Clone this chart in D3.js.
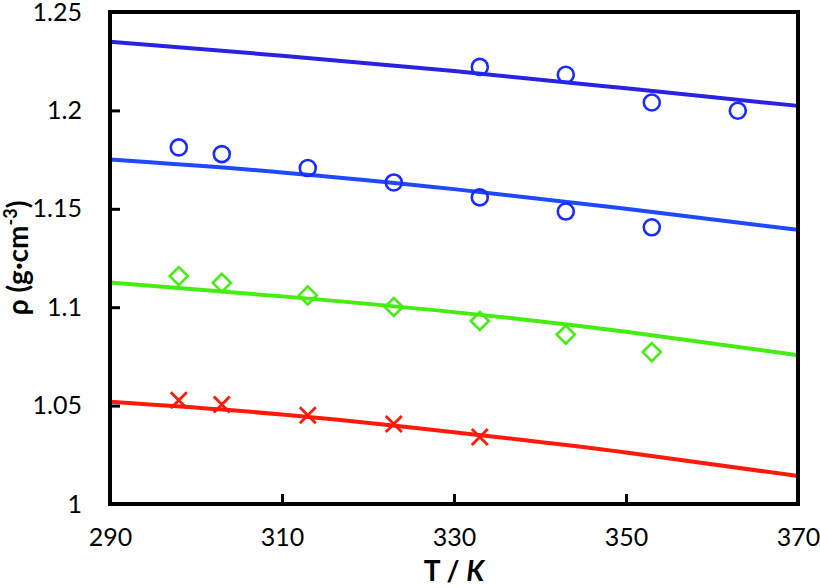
<!DOCTYPE html>
<html>
<head>
<meta charset="utf-8">
<script src="https://cdn.jsdelivr.net/npm/d3@7"></script>
<style>
body { margin: 0; background: #fff; }
text { font-family: Lato, "Open Sans", sans-serif; }
</style>
</head>
<body>
<div id="chart"></div>
<script>
// temperatures, K
var xTicks = [290, 310, 330, 350, 370];
var yTicks = [1.0, 1.05, 1.1, 1.15, 1.2, 1.25];
var yTickLabels = ["1", "1.05", "1.1", "1.15", "1.2", "1.25"];

// fitted curves
var lineT = [290, 310, 330, 350, 370];
var line1 = [1.2349, 1.2278, 1.2200, 1.2112, 1.2023];
var line2 = [1.1750, 1.1685, 1.1600, 1.1500, 1.1393];
var line3 = [1.1125, 1.1055, 1.0975, 1.0875, 1.0756];
var line4 = [1.0519, 1.0455, 1.0365, 1.0262, 1.0142];

// measured points
var pts1T = [333, 343, 353, 363];
var pts1 = [1.2221, 1.2181, 1.2040, 1.1998];
var pts2T = [298, 303, 313, 323, 333, 343, 353];
var pts2 = [1.1812, 1.1778, 1.1707, 1.1634, 1.1558, 1.1486, 1.1406];
var pts3T = [298, 303, 313, 323, 333, 343, 353];
var pts3 = [1.1158, 1.1124, 1.1060, 1.1001, 1.0930, 1.0861, 1.0772];
var pts4T = [298, 303, 313, 323, 333];
var pts4 = [1.0527, 1.0506, 1.0451, 1.0406, 1.0341];

var width = 820, height = 588;
var margin = {left: 110, right: 22, top: 12, bottom: 84};

var svg = d3.select("#chart").append("svg")
    .attr("width", width)
    .attr("height", height);

var x = d3.scaleLinear().domain([290, 370]).range([margin.left, width - margin.right]);
var y = d3.scaleLinear().domain([1.0, 1.25]).range([height - margin.bottom, margin.top]);

var zip = function(ts, vs) { return ts.map(function(t, i) { return [t, vs[i]]; }); };

var line = d3.line()
    .x(function(d) { return x(d[0]); })
    .y(function(d) { return y(d[1]); })
    .curve(d3.curveNatural);

// curves
var curves = [
    {data: line1, color: "#2a22e0"},
    {data: line2, color: "#1f48ff"},
    {data: line3, color: "#44ee11"},
    {data: line4, color: "#ff1a0a"}];

svg.selectAll("path.fit")
    .data(curves)
    .enter()
    .append("path")
    .attr("class", "fit")
    .attr("d", function(d) { return line(zip(lineT, d.data)); })
    .attr("fill", "none")
    .attr("stroke", function(d) { return d.color; })
    .attr("stroke-width", 4);

// circles
svg.selectAll("circle.p")
    .data(zip(pts1T, pts1).concat(zip(pts2T, pts2)))
    .enter()
    .append("circle")
    .attr("class", "p")
    .attr("cx", function(d) { return x(d[0]); })
    .attr("cy", function(d) { return y(d[1]); })
    .attr("r", 8)
    .attr("fill", "none")
    .attr("stroke", "#1a2bff")
    .attr("stroke-width", 2.6);

// diamonds
var diamond = "M0,-9L9,0L0,9L-9,0Z";
svg.selectAll("path.dia")
    .data(zip(pts3T, pts3))
    .enter()
    .append("path")
    .attr("class", "dia")
    .attr("transform", function(d) { return "translate(" + x(d[0]) + "," + y(d[1]) + ")"; })
    .attr("d", diamond)
    .attr("fill", "none")
    .attr("stroke", "#44ee11")
    .attr("stroke-width", 2.6);

// crosses
var cross = "M-8,-8L8,8M-8,8L8,-8";
svg.selectAll("path.crs")
    .data(zip(pts4T, pts4))
    .enter()
    .append("path")
    .attr("class", "crs")
    .attr("transform", function(d) { return "translate(" + x(d[0]) + "," + y(d[1]) + ")"; })
    .attr("d", cross)
    .attr("fill", "none")
    .attr("stroke", "#ff1a0a")
    .attr("stroke-width", 2.8);

// frame
svg.append("rect")
    .attr("x", x(290))
    .attr("y", y(1.25))
    .attr("width", x(370) - x(290))
    .attr("height", y(1.0) - y(1.25))
    .attr("fill", "none")
    .attr("stroke", "#000")
    .attr("stroke-width", 4);

// axes, ticks pointing inward
var xAxis = svg.append("g")
    .attr("transform", "translate(0," + y(1.0) + ")")
    .call(d3.axisBottom(x).tickValues(xTicks).tickSizeInner(-10).tickSizeOuter(0).tickPadding(24));
var yAxis = svg.append("g")
    .attr("transform", "translate(" + x(290) + ",0)")
    .call(d3.axisLeft(y).tickValues(yTicks).tickSizeInner(-10).tickSizeOuter(0).tickPadding(28)
        .tickFormat(function(d, i) { return yTickLabels[i]; }));

[xAxis, yAxis].forEach(function(g) {
    g.select(".domain").remove();
    g.selectAll(".tick line").attr("stroke", "#000").attr("stroke-width", 3);
    g.selectAll(".tick text")
        .attr("font-family", "Lato, sans-serif")
        .attr("font-size", "25px")
        .attr("fill", "#000");
});

// axis titles
var xt = svg.append("text")
    .attr("x", (x(290) + x(370)) / 2)
    .attr("y", 581)
    .attr("text-anchor", "middle")
    .attr("font-size", "28px")
    .attr("font-weight", "bold");
xt.append("tspan").text("T / ");
xt.append("tspan").attr("font-style", "italic").text("K");

var yt = svg.append("text")
    .attr("transform", "translate(28," + (y(1.0) + y(1.25)) / 2 + ") rotate(-90)")
    .attr("text-anchor", "middle")
    .attr("font-size", "28px")
    .attr("font-weight", "bold");
yt.append("tspan").text("ρ (g·cm");
yt.append("tspan").attr("font-size", "18px").attr("dy", "-11").text("-3");
yt.append("tspan").attr("dy", "11").text(")");
</script>
</body>
</html>
